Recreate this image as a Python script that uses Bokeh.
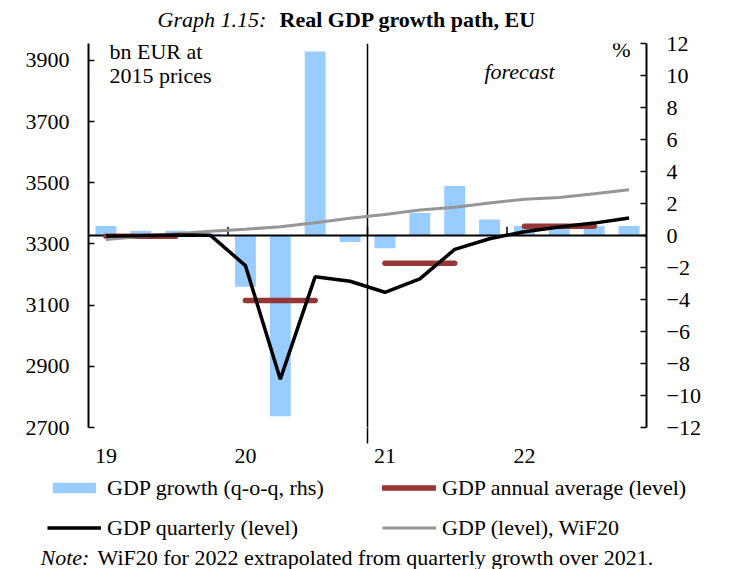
from bokeh.plotting import figure
from bokeh.layouts import column
from bokeh.models import Range1d, LinearAxis, FixedTicker, Label, Legend, LegendItem
from bokeh.embed import file_html
from bokeh.resources import INLINE

# ---- data ----
quarters = ["2019Q1", "2019Q2", "2019Q3", "2019Q4",
            "2020Q1", "2020Q2", "2020Q3", "2020Q4",
            "2021Q1", "2021Q2", "2021Q3", "2021Q4",
            "2022Q1", "2022Q2", "2022Q3", "2022Q4"]
year_labels = ["19", "20", "21", "22"]
growth_qoq = [0.6, 0.3, 0.3, 0.1, -3.2, -11.3, 11.5, -0.4,
              -0.8, 1.4, 3.1, 1.0, 0.6, 0.5, 0.6, 0.6]
gdp_quarterly = [3326, 3327, 3329, 3328, 3229, 2858, 3193, 3178,
                 3142, 3186, 3282, 3317, 3340, 3355, 3368, 3385]
gdp_wif20 = [3314, 3324, 3333, 3341, 3348, 3356, 3369, 3384,
             3396, 3411, 3420, 3434, 3446, 3452, 3464, 3477]
annual_years = ["2019", "2020", "2021", "2022"]
gdp_annual_avg = [3325, 3115, 3237, 3358]
forecast_start = "2021Q1"
left_ticks = [2700, 2900, 3100, 3300, 3500, 3700, 3900]
right_ticks = [-12, -10, -8, -6, -4, -2, 0, 2, 4, 6, 8, 10, 12]

FONT = "Liberation Serif"
FS = "22px"
BLUE = "#99CCFF"
RED = "#953735"
GREY = "#969696"
W = 727
NAN = float("nan")

n = len(quarters)
xs = list(range(n))
year_first_q = [quarters.index("20" + y + "Q1") for y in year_labels]
year_bounds = [i - 0.5 for i in year_first_q[1:]]
fc_x = quarters.index(forecast_start) - 0.5
Y0, Y1 = 2700, 3955

def lab(fig, x, y, text, style="normal"):
    fig.add_layout(Label(x=x, y=y, text=text, text_font=FONT, text_font_size=FS,
                         text_font_style=style, text_baseline="middle",
                         text_color="black"))

def strip(h):
    f = figure(width=W, height=h, output_backend="svg", toolbar_location=None,
               title=None, x_range=Range1d(0, W), y_range=Range1d(0, h),
               min_border=0, x_axis_type=None, y_axis_type=None)
    f.grid.visible = False
    f.outline_line_color = None
    f.frame_align = False
    return f

# ---------------- title strip ----------------
T_H = 32
t = strip(T_H)
lab(t, 157, T_H - 19.3, "Graph 1.15:", "italic")
lab(t, 279, T_H - 19.3, "Real GDP growth path, EU", "bold")

# ---------------- main chart ----------------
FR_L, FR_T, FR_W, FR_H = 88, 43, 558, 384
M_TOP, M_BOT = FR_T - T_H, 43
p = figure(width=W, height=M_TOP + FR_H + M_BOT, output_backend="svg",
           toolbar_location=None, title=None,
           x_range=Range1d(-0.5, n - 0.5), y_range=Range1d(Y0, Y1),
           min_border_left=FR_L, min_border_right=W - FR_L - FR_W,
           min_border_top=M_TOP, min_border_bottom=M_BOT)
p.extra_y_ranges = {"pct": Range1d(-12, 12)}
p.grid.visible = False
p.outline_line_color = None
p.frame_align = False

bars = p.vbar(x=xs, top=growth_qoq, bottom=0, width=0.6, y_range_name="pct",
              fill_color=BLUE, line_color=None)
p.hspan(y=[0], y_range_name="pct", line_color="black", line_width=2)
p.segment(x0=year_bounds, x1=year_bounds, y0=[0] * len(year_bounds),
          y1=[0.55] * len(year_bounds), y_range_name="pct",
          line_color="black", line_width=1.5)
p.vspan(x=[fc_x], line_color="black", line_width=1.5)

seg_x0 = [q for q in year_first_q]
seg_x1 = [q + 2 for q in year_first_q]
avg = p.segment(x0=seg_x0, x1=seg_x1, y0=gdp_annual_avg, y1=gdp_annual_avg,
                line_color=RED, line_width=5.5, line_cap="round")
grey = p.line(xs, gdp_wif20, line_color=GREY, line_width=3)
black = p.line(xs, gdp_quarterly, line_color="black", line_width=3.5)

def style_axis(ax):
    ax.axis_line_color = "black"
    ax.axis_line_width = 2
    ax.major_tick_in = 6
    ax.major_tick_out = 0
    ax.major_tick_line_width = 1.5
    ax.minor_tick_line_color = None
    ax.major_label_text_font = FONT
    ax.major_label_text_font_size = FS
    ax.major_label_text_color = "black"

p.yaxis.ticker = FixedTicker(ticks=left_ticks)
style_axis(p.yaxis[0])
p.yaxis.major_label_standoff = 19

ry = LinearAxis(y_range_name="pct", ticker=FixedTicker(ticks=right_ticks))
style_axis(ry)
ry.major_label_standoff = 20
p.add_layout(ry, "right")

xa = p.xaxis[0]
style_axis(xa)
xa.ticker = FixedTicker(ticks=year_first_q, minor_ticks=[fc_x])
xa.major_label_overrides = {q: l for q, l in zip(year_first_q, year_labels)}
xa.axis_line_color = None
xa.major_tick_line_color = None
xa.minor_tick_line_color = "black"
xa.minor_tick_line_width = 1.5
xa.minor_tick_in = 0
xa.minor_tick_out = 16
xa.major_label_standoff = 5

def px_x(px):
    return -0.5 + (px - FR_L) * n / FR_W
def px_y(py):
    return Y1 - (py - FR_T) * (Y1 - Y0) / FR_H

lab(p, px_x(109), px_y(50.6), "bn EUR at")
lab(p, px_x(109), px_y(75.3), "2015 prices")
lab(p, px_x(484), px_y(70.9), "forecast", "italic")
lab(p, px_x(611.7), px_y(49.3), "%")

# ---------------- legend + note strip ----------------
B_TOP = T_H + M_TOP + FR_H + M_BOT
B_H = 569 - B_TOP
b = strip(B_H)
lb_bar = b.vbar(x=[NAN], top=[NAN], width=1, fill_color=BLUE, line_color=None)
lb_avg = b.segment(x0=[NAN], x1=[NAN], y0=[NAN], y1=[NAN], line_color=RED,
                   line_width=5.5, line_cap="round")
lb_blk = b.line(x=[NAN], y=[NAN], line_color="black", line_width=3.5)
lb_gry = b.line(x=[NAN], y=[NAN], line_color=GREY, line_width=3)

legend = Legend(items=[
    LegendItem(label="GDP growth (q-o-q, rhs)", renderers=[lb_bar]),
    LegendItem(label="GDP annual average (level)", renderers=[lb_avg]),
    LegendItem(label="GDP quarterly (level)", renderers=[lb_blk]),
    LegendItem(label="GDP (level), WiF20", renderers=[lb_gry]),
], orientation="horizontal", ncols=2, location=(47, 569 - 540.5),
    glyph_width=54, glyph_height=13, label_standoff=6, label_width=261,
    label_height=26, spacing=14, padding=0, margin=0,
    border_line_color=None, background_fill_alpha=0,
    label_text_font=FONT, label_text_font_size=FS, label_text_color="black")
b.add_layout(legend)

NOTE_Y = 569 - 557
lab(b, 40, NOTE_Y, "Note:", "italic")
lab(b, 97, NOTE_Y, "WiF20 for 2022 extrapolated from quarterly growth over 2021.")

layout = column(t, p, b, spacing=0)
open("out.html", "w").write(file_html(layout, INLINE))
